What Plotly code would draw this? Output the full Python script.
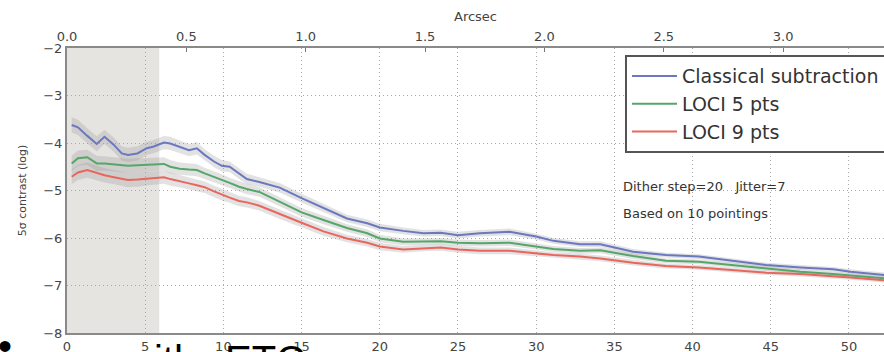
import plotly.graph_objects as go

# ---- data ----
sep_px = [0.3, 0.7, 1.3, 1.9, 2.4, 3.0, 3.5, 3.9, 4.5, 5.1, 5.5, 6.2, 6.6, 7.2, 7.8, 8.3,
          8.8, 9.4, 9.9, 10.4, 11.0, 11.5, 12.3, 13.6, 15.0, 16.4, 17.9, 19.2, 20.0, 21.5,
          22.8, 23.9, 25.0, 26.4, 28.3, 30.0, 31.1, 32.8, 34.1, 36.2, 38.3, 40.4, 42.6,
          44.7, 46.9, 49.0, 50.1, 52.3]

classical = [-3.62, -3.67, -3.85, -4.02, -3.87, -4.04, -4.22, -4.25, -4.22, -4.11, -4.08,
             -3.99, -4.01, -4.08, -4.15, -4.11, -4.25, -4.39, -4.48, -4.50, -4.65, -4.76,
             -4.82, -4.94, -5.16, -5.37, -5.59, -5.69, -5.78, -5.85, -5.90, -5.89, -5.94,
             -5.90, -5.87, -5.97, -6.06, -6.13, -6.13, -6.29, -6.36, -6.39, -6.48, -6.57,
             -6.62, -6.66, -6.71, -6.78]

loci5 = [-4.43, -4.32, -4.30, -4.43, -4.43, -4.45, -4.46, -4.48, -4.47, -4.46, -4.45,
         -4.44, -4.50, -4.54, -4.56, -4.57, -4.64, -4.71, -4.78, -4.84, -4.92, -4.97,
         -5.03, -5.24, -5.46, -5.62, -5.79, -5.90, -6.01, -6.08, -6.07, -6.07, -6.10,
         -6.11, -6.10, -6.18, -6.23, -6.27, -6.26, -6.38, -6.48, -6.50, -6.57, -6.64,
         -6.71, -6.76, -6.79, -6.85]

loci9 = [-4.71, -4.62, -4.57, -4.63, -4.68, -4.72, -4.76, -4.78, -4.77, -4.75, -4.74,
         -4.72, -4.76, -4.80, -4.85, -4.89, -4.93, -5.02, -5.09, -5.15, -5.22, -5.25,
         -5.32, -5.50, -5.68, -5.86, -6.01, -6.10, -6.18, -6.24, -6.21, -6.20, -6.24,
         -6.27, -6.27, -6.32, -6.36, -6.39, -6.43, -6.52, -6.59, -6.62, -6.67, -6.73,
         -6.76, -6.80, -6.83, -6.89]

# half-width of the grey scatter band around each curve
spread = [0.16, 0.16, 0.16, 0.16, 0.15, 0.15, 0.15, 0.15, 0.15, 0.14, 0.14, 0.14, 0.14,
          0.13, 0.13, 0.13, 0.12, 0.12, 0.12, 0.11, 0.11, 0.11, 0.10, 0.10, 0.09, 0.09,
          0.08, 0.08, 0.08, 0.07, 0.07, 0.07, 0.07, 0.07, 0.07, 0.06, 0.06, 0.06, 0.06,
          0.06, 0.05, 0.05, 0.05, 0.05, 0.05, 0.05, 0.05, 0.05]

series_names = ["Classical subtraction", "LOCI 5 pts", "LOCI 9 pts"]
series_colors = ["#6b78c0", "#56a66a", "#ea665d"]

mask_edge = 5.9          # shaded inner region (pixels)
x_max = 52.24            # visible extent (pixels)
arcsec_per_px = 0.06552  # plate scale for top axis

x_ticks = [0, 5, 10, 15, 20, 25, 30, 35, 40, 45, 50]
arc_ticks = [0.0, 0.5, 1.0, 1.5, 2.0, 2.5, 3.0]
y_ticks = [-8, -7, -6, -5, -4, -3, -2]

# ---- figure ----
fig = go.Figure()

for vals in [classical, loci5, loci9]:
    lo = [v - s for v, s in zip(vals, spread)]
    hi = [v + s for v, s in zip(vals, spread)]
    fig.add_trace(go.Scatter(x=sep_px, y=lo, mode="lines", line=dict(width=0),
                             showlegend=False, hoverinfo="skip"))
    fig.add_trace(go.Scatter(x=sep_px, y=hi, mode="lines", line=dict(width=0),
                             fill="tonexty", fillcolor="rgba(150,150,150,0.28)",
                             showlegend=False, hoverinfo="skip"))

for vals, name, col in zip([classical, loci5, loci9], series_names, series_colors):
    fig.add_trace(go.Scatter(x=sep_px, y=vals, mode="lines", name=name,
                             line=dict(color=col, width=2)))

# invisible trace to activate top axis
fig.add_trace(go.Scatter(x=[0], y=[-2], xaxis="x2", mode="markers",
                         marker=dict(opacity=0), showlegend=False, hoverinfo="skip"))

fig.add_shape(type="rect", xref="x", yref="y", x0=0, x1=mask_edge, y0=-8, y1=-2,
              fillcolor="#e5e4e1", line=dict(width=0), layer="below")

tick_font = dict(family="DejaVu Sans, Arial", size=13, color="#444444")
grid_dash = "1px,3px"

fig.update_layout(
    width=884, height=352,
    margin=dict(l=67, r=0, t=48, b=19, autoexpand=False),
    paper_bgcolor="white", plot_bgcolor="white",
    showlegend=True,
    legend=dict(x=0.683, y=0.975, xanchor="left", yanchor="top",
                bgcolor="white", bordercolor="#555555", borderwidth=2,
                font=dict(family="DejaVu Sans, Arial", size=19, color="#333333"),
                itemwidth=45, tracegroupgap=0, traceorder="normal"),
    xaxis=dict(range=[0, x_max], tickvals=x_ticks, showgrid=True,
               gridcolor="#a8a8a8", griddash=grid_dash, gridwidth=1,
               showline=True, linecolor="#8a8a8a", linewidth=2,
               ticks="", tickfont=tick_font, zeroline=False, automargin=False),
    xaxis2=dict(range=[0, x_max * arcsec_per_px], overlaying="x", side="top",
                tickvals=arc_ticks, ticktext=[f"{v:.1f}" for v in arc_ticks],
                showgrid=False, showline=True, linecolor="#8a8a8a", linewidth=2,
                ticks="inside", ticklen=4, tickcolor="#777777",
                tickfont=tick_font, zeroline=False, automargin=False,
                title=dict(text="Arcsec", font=dict(family="DejaVu Sans, Arial",
                                                    size=13, color="#444444"),
                           standoff=4)),
    yaxis=dict(range=[-8, -2], tickvals=y_ticks, showgrid=True,
               gridcolor="#a8a8a8", griddash=grid_dash, gridwidth=1,
               showline=True, linecolor="#8a8a8a", linewidth=2,
               ticks="", tickfont=tick_font, zeroline=False, automargin=False,
               title=dict(text="5σ contrast (log)",
                          font=dict(family="DejaVu Sans, Arial", size=11, color="#444444"),
                          standoff=14)),
)


def px_to_paper_x(px):
    return (px - 67) / 817.0


def px_to_paper_y(py):
    return (333 - py) / 285.0


fig.add_annotation(x=px_to_paper_x(621), y=px_to_paper_y(186), xref="paper", yref="paper",
                   xanchor="left", yanchor="middle", showarrow=False,
                   text="Dither step=20   Jitter=7",
                   font=dict(family="DejaVu Sans, Arial", size=13, color="#333333"))
fig.add_annotation(x=px_to_paper_x(621), y=px_to_paper_y(213), xref="paper", yref="paper",
                   xanchor="left", yanchor="middle", showarrow=False,
                   text="Based on 10 pointings",
                   font=dict(family="DejaVu Sans, Arial", size=13, color="#333333"))

# slide text overlapping bottom edge (only tops visible)
slide_font = dict(family="Liberation Sans, Arial", size=40, color="black")
fig.add_annotation(x=px_to_paper_x(-4), y=px_to_paper_y(322), xref="paper", yref="paper",
                   xanchor="left", yanchor="top", showarrow=False, text="•", font=slide_font)
fig.add_annotation(x=px_to_paper_x(122), y=px_to_paper_y(336), xref="paper", yref="paper",
                   xanchor="left", yanchor="top", showarrow=False, text="with", font=slide_font)
fig.add_annotation(x=px_to_paper_x(223), y=px_to_paper_y(336), xref="paper", yref="paper",
                   xanchor="left", yanchor="top", showarrow=False, text="ETC", font=slide_font)

fig.write_html("out.html",
               config={"displayModeBar": False},
               post_script="document.body.style.margin='0px';document.body.style.overflow='hidden';")
